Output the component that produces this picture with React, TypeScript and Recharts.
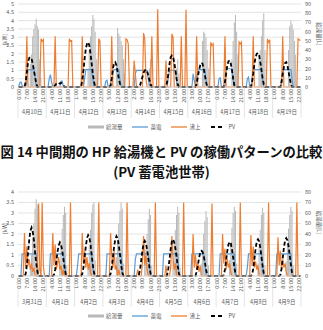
import React from 'react';
import { ComposedChart, Bar, Line, XAxis, YAxis, CartesianGrid, Legend } from 'recharts';

// 中間期（上段：4/10〜4/19、下段：3/31〜4/9）、1時間値
const dates1 = ['4月10日', '4月11日', '4月12日', '4月13日', '4月14日', '4月15日', '4月16日', '4月17日', '4月18日', '4月19日'];
const dates2 = ['3月31日', '4月1日', '4月2日', '4月3日', '4月4日', '4月5日', '4月6日', '4月7日', '4月8日', '4月9日'];

const seriesNames = ['給湯量', '蓄電', '沸上', 'PV'];

// 上段 [kW]
const pv1 = [
  [0, 0, 0, 0, 0, 0, 0.3, 0.9, 1.5, 1.75, 1.8, 1.7, 1.4, 1.0, 0.6, 0.2, 0, 0, 0, 0, 0, 0, 0, 0],
  [0, 0, 0, 0, 0, 0, 0, 0.1, 0.2, 0.25, 0.25, 0.2, 0.25, 0.2, 0.1, 0, 0, 0, 0, 0, 0, 0, 0, 0],
  [0, 0, 0, 0, 0, 0, 0.4, 1.0, 1.7, 2.3, 2.6, 2.7, 2.5, 2.0, 1.4, 0.8, 0.3, 0, 0, 0, 0, 0, 0, 0],
  [0, 0, 0, 0, 0, 0, 0.1, 0.5, 1.1, 1.45, 1.5, 1.3, 0.9, 0.5, 0.2, 0, 0, 0, 0, 0, 0, 0, 0, 0],
  [0, 0, 0, 0, 0, 0, 0, 0.1, 0.35, 0.6, 0.85, 1.0, 1.05, 0.95, 0.7, 0.4, 0.15, 0, 0, 0, 0, 0, 0, 0],
  [0, 0, 0, 0, 0, 0.05, 0.3, 0.8, 1.4, 1.8, 1.9, 1.8, 1.5, 1.0, 0.5, 0.15, 0, 0, 0, 0, 0, 0, 0, 0],
  [0, 0, 0, 0, 0, 0, 0, 0.2, 0.6, 1.0, 1.3, 1.45, 1.4, 1.1, 0.7, 0.3, 0, 0, 0, 0, 0, 0, 0, 0],
  [0, 0, 0, 0, 0, 0, 0, 0.3, 0.8, 1.3, 1.55, 1.6, 1.4, 1.0, 0.5, 0.1, 0, 0, 0, 0, 0, 0, 0, 0],
  [0, 0, 0, 0, 0, 0, 0.3, 0.8, 1.4, 1.8, 2.0, 2.05, 1.9, 1.5, 1.0, 0.5, 0.15, 0, 0, 0, 0, 0, 0, 0],
  [0, 0, 0, 0, 0, 0, 0, 0.3, 0.8, 1.2, 1.45, 1.5, 1.3, 0.9, 0.5, 0.15, 0, 0, 0, 0, 0, 0, 0, 0],
];
const charge1 = [
  [0, 0.25, 0.3, 0.1, 0, 0, 0, 0.3, 1.05, 1.05, 1.05, 1.05, 1.05, 1.05, 0.6, 0, 0, 0, 0, 0, 0, 0, 0, 0],
  [0, 0, 0.5, 0.75, 0.3, 0, 0, 0, 0, 0, 0, 0, 0.35, 0.35, 0, 0, 0, 0, 0, 0, 0, 0, 0, 0],
  [0, 0, 0, 0, 0, 0, 0, 0, 0.5, 1.05, 1.05, 1.05, 1.05, 1.05, 1.05, 0.5, 0, 0, 0, 0, 0, 0, 0, 0],
  [0, 0, 0.35, 0.4, 0, 0, 0, 0, 0.9, 1.05, 1.05, 1.05, 1.05, 1.05, 0.4, 0, 0, 0, 0, 0, 0, 0, 0, 0],
  [0, 0, 0, 0.8, 1.0, 1.0, 1.0, 1.0, 1.0, 1.0, 1.0, 1.0, 1.0, 1.0, 0.5, 0, 0, 0, 0, 0, 0, 0, 0, 0],
  [0, 0, 0, 0, 0, 0, 0, 0.6, 1.0, 1.0, 1.0, 1.0, 1.0, 1.0, 0.3, 0, 0, 0, 0, 0, 0, 0, 0, 0],
  [0, 0, 0, 0, 0.8, 0.4, 0, 0.6, 1.05, 1.05, 1.05, 1.05, 1.05, 1.05, 1.05, 0.4, 0, 0, 0, 0, 0, 0, 0, 0],
  [0, 0, 0.5, 0.55, 0, 0, 0, 0, 1.0, 1.1, 1.1, 1.1, 1.1, 1.1, 0.4, 0, 0, 0, 0, 0, 0, 0, 0, 0],
  [0, 0, 0.5, 0.6, 0, 0, 0.5, 1.05, 1.05, 1.05, 1.05, 1.05, 1.05, 1.05, 1.05, 0.4, 0, 0, 0, 0, 0, 0, 0, 0],
  [0, 0, 0, 0, 0, 0, 0, 0.5, 1.05, 1.05, 1.05, 1.05, 1.05, 1.05, 1.05, 1.05, 0.4, 0, 0, 0, 0, 0, 0, 0],
];
const heat1 = [
  [0, 0, 0, 0, 0, 0, 0, 3.05, 0, 0, 0, 0, 0, 0, 0, 0, 0, 0, 0, 2.9, 2.75, 2.85, 0, 0],
  [0, 0, 0, 0, 0, 0, 0, 3.05, 0, 0, 0, 0, 0, 0, 0, 0, 0, 0, 0, 2.9, 2.75, 2.8, 0, 0],
  [0, 0, 0, 0, 0, 0, 3.05, 0, 0, 0, 0, 0, 0, 0, 0, 0, 0, 0, 0, 0, 2.9, 2.75, 0, 0],
  [0, 0, 0, 0, 0, 0, 0, 3.05, 0, 0, 0, 0, 0, 0, 0, 0, 0, 0, 0, 2.9, 2.85, 2.6, 0, 0],
  [0, 0, 1.6, 0.8, 0, 0, 0, 0, 0, 0, 3.25, 2.9, 0.5, 0, 0, 0, 0, 3.05, 0, 0, 0, 0, 4.68, 0],
  [0, 0, 0, 0, 0, 1.6, 0, 0, 0, 0, 3.2, 3.0, 0, 0, 0, 0, 0, 0, 3.05, 0, 0, 0, 4.65, 0],
  [0, 0, 0, 0, 0, 0, 0, 3.05, 0, 0, 0, 0, 0, 0, 0, 0, 0, 0, 0, 2.7, 2.5, 2.6, 0, 0],
  [0, 0, 0, 0, 0, 0, 0, 3.05, 0, 0, 0, 0, 0, 0, 0, 0, 0, 0, 0, 2.7, 2.6, 2.7, 0, 0],
  [0, 0, 0, 0, 0, 0, 0, 3.05, 0, 0, 0, 0, 0, 0, 0, 0, 0, 0, 0, 2.9, 2.7, 2.85, 0, 0],
  [0, 0, 0, 0, 0, 0, 0, 0, 3.05, 0, 0, 0, 0, 0, 0, 0, 0, 0, 0, 0, 0, 2.9, 2.85, 2.8],
];
// 上段 [L]
const tank1 = [
  [0, 0, 0, 0, 0, 0, 0, 0, 0, 0, 25, 35, 55, 63, 68, 74, 66, 62, 30, 10, 0, 0, 0, 0],
  [0, 0, 0, 0, 0, 0, 0, 0, 0, 0, 0, 0, 0, 0, 0, 0, 0, 0, 0, 0, 0, 0, 0, 0],
  [0, 0, 0, 0, 0, 0, 0, 0, 0, 0, 0, 20, 40, 55, 66, 78, 74, 60, 30, 0, 0, 0, 0, 0],
  [0, 0, 0, 0, 0, 0, 0, 0, 0, 0, 0, 25, 64, 58, 55, 50, 45, 30, 15, 0, 0, 0, 0, 0],
  [0, 0, 0, 0, 0, 0, 0, 0, 0, 0, 0, 0, 0, 0, 0, 20, 30, 0, 0, 0, 0, 0, 0, 0],
  [0, 0, 0, 0, 0, 0, 0, 0, 0, 0, 0, 0, 0, 0, 20, 30, 15, 0, 0, 0, 0, 0, 0, 0],
  [0, 0, 0, 0, 0, 0, 0, 0, 0, 0, 0, 0, 50, 60, 58, 54, 40, 20, 0, 0, 0, 0, 0, 0],
  [0, 0, 0, 0, 0, 0, 0, 0, 0, 0, 0, 0, 0, 30, 50, 70, 78, 60, 35, 0, 0, 0, 0, 0],
  [0, 0, 0, 0, 0, 0, 0, 0, 0, 0, 0, 0, 30, 40, 55, 72, 80, 40, 0, 0, 0, 0, 0, 0],
  [0, 0, 0, 0, 0, 0, 0, 0, 0, 0, 0, 0, 0, 40, 66, 72, 68, 62, 50, 35, 0, 0, 0, 0],
];

// 下段 [kW]
const pv2 = [
  [0, 0, 0, 0, 0, 0, 0.1, 0.5, 1.1, 1.7, 2.15, 2.3, 2.1, 1.7, 1.1, 0.6, 0.2, 0, 0, 0, 0, 0, 0, 0],
  [0, 0, 0, 0, 0, 0, 0.05, 0.3, 0.7, 1.15, 1.45, 1.6, 1.5, 1.2, 0.8, 0.4, 0.1, 0, 0, 0, 0, 0, 0, 0],
  [0, 0, 0, 0, 0, 0, 0.1, 0.4, 0.9, 1.4, 1.8, 1.95, 1.85, 1.5, 1.0, 0.5, 0.15, 0, 0, 0, 0, 0, 0, 0],
  [0, 0, 0, 0, 0, 0, 0.1, 0.4, 0.9, 1.4, 1.75, 1.9, 1.8, 1.45, 1.0, 0.5, 0.15, 0, 0, 0, 0, 0, 0, 0],
  [0, 0, 0, 0, 0, 0, 0.05, 0.3, 0.75, 1.2, 1.55, 1.67, 1.55, 1.25, 0.85, 0.4, 0.1, 0, 0, 0, 0, 0, 0, 0],
  [0, 0, 0, 0, 0, 0, 0.05, 0.35, 0.8, 1.3, 1.65, 1.75, 1.6, 1.3, 0.9, 0.45, 0.1, 0, 0, 0, 0, 0, 0, 0],
  [0, 0, 0, 0, 0, 0, 0, 0.2, 0.5, 0.85, 1.1, 1.2, 1.15, 0.95, 0.65, 0.3, 0.05, 0, 0, 0, 0, 0, 0, 0],
  [0, 0, 0, 0, 0, 0, 0.05, 0.3, 0.75, 1.2, 1.5, 1.63, 1.55, 1.25, 0.85, 0.4, 0.1, 0, 0, 0, 0, 0, 0, 0],
  [0, 0, 0, 0, 0, 0, 0.05, 0.35, 0.8, 1.3, 1.65, 1.75, 1.65, 1.35, 0.9, 0.45, 0.1, 0, 0, 0, 0, 0, 0, 0],
  [0, 0, 0, 0, 0, 0, 0.05, 0.35, 0.85, 1.35, 1.7, 1.8, 1.7, 1.4, 0.95, 0.5, 0.1, 0, 0, 0, 0, 0, 0, 0],
];
const charge2 = [
  [0, 0, 0, 1.05, 1.05, 1.05, 1.05, 1.05, 1.05, 1.05, 1.05, 1.05, 1.05, 1.05, 1.05, 1.05, 0, 0, 0, 0, 0, 0, 0, 0],
  [0, 0, 0, 1.05, 1.05, 1.05, 1.05, 1.05, 1.05, 1.05, 1.05, 1.05, 1.05, 1.05, 1.05, 0.6, 0, 0, 0, 0, 0, 0, 0, 0],
  [0, 0, 0.5, 1.05, 1.05, 1.05, 1.05, 1.05, 1.05, 1.05, 1.05, 1.05, 1.05, 1.05, 1.05, 0.4, 0, 0, 0, 0, 0, 0, 0, 0],
  [0, 0, 0, 1.05, 1.05, 1.05, 1.05, 1.05, 1.05, 1.05, 1.05, 1.05, 1.05, 1.05, 1.05, 1.05, 0, 0, 0, 0, 0, 0, 0, 0],
  [0, 0, 0, 0.8, 1.05, 1.05, 1.05, 1.05, 1.05, 1.05, 1.05, 1.05, 1.05, 1.05, 1.05, 0.5, 0, 0, 0, 0, 0, 0, 0, 0],
  [0, 0, 0, 1.05, 1.05, 1.05, 1.05, 1.05, 1.05, 1.05, 1.05, 1.05, 1.05, 1.05, 1.05, 1.05, 0, 0, 0, 0, 0, 0, 0, 0],
  [0, 0, 0, 1.05, 1.05, 1.05, 1.05, 1.05, 1.05, 1.05, 1.05, 1.05, 1.05, 1.05, 0.7, 0, 0, 0, 0, 0, 0, 0, 0, 0],
  [0, 0, 0, 1.05, 1.05, 1.05, 1.05, 1.05, 1.05, 1.05, 1.05, 1.05, 1.05, 1.05, 1.05, 1.05, 0, 0, 0, 0, 0, 0, 0, 0],
  [0, 0, 0.4, 1.05, 1.05, 1.05, 1.05, 1.05, 1.05, 1.05, 1.05, 1.05, 1.05, 1.05, 1.05, 0.5, 0, 0, 0, 0, 0, 0, 0, 0],
  [0, 0, 0, 1.05, 1.05, 1.05, 1.05, 1.05, 1.05, 1.05, 1.05, 1.05, 1.05, 1.05, 1.05, 1.05, 0, 0, 0, 0, 0, 0, 0, 0],
];
const heat2 = [
  [0, 0, 0, 0, 0, 2.05, 0.4, 1.4, 0.5, 0.8, 0.3, 0.6, 0.2, 0.4, 0, 0, 0, 3.45, 0.3, 0, 3.5, 0.5, 0, 0],
  [0, 0, 0, 0, 0, 2.05, 0.5, 1.5, 0.3, 0.6, 0.9, 0.3, 0.5, 0, 0.3, 0, 0, 0, 0, 0, 3.5, 0, 0, 0],
  [0, 0, 0, 0, 0, 0, 2.05, 0.6, 1.2, 0.4, 0.9, 0.3, 0.6, 0.2, 0, 0, 0, 0, 0, 0, 3.5, 0, 0, 0],
  [0, 0, 0, 0, 0, 0, 2.05, 1.0, 0.4, 1.2, 0.3, 0.5, 0, 0.3, 0, 0, 0, 0, 0, 0, 3.5, 0, 0, 0],
  [0, 0, 0, 0, 0, 0.3, 0, 0, 0, 0.6, 1.9, 0.5, 1.0, 0.3, 0, 0, 0, 0, 0, 0, 3.5, 0, 0, 0],
  [0, 0, 0, 0, 0, 0.5, 0, 0, 0, 0.4, 1.9, 0.8, 0.3, 0.6, 0, 0, 0, 0, 0, 0, 3.5, 0, 0, 0],
  [0, 0, 0, 0, 2.0, 0.4, 1.0, 0.3, 0.6, 0.2, 0.5, 0, 0, 0, 0, 0, 0, 0, 0, 0, 3.45, 0, 0, 0],
  [0, 0, 0, 0, 0, 2.0, 0.6, 1.3, 0.3, 0.8, 0.4, 0.6, 0.2, 0, 0, 0, 0, 0, 0, 0, 3.5, 0, 0, 0],
  [0, 0, 0, 0, 0, 1.95, 0.5, 1.4, 0.4, 0.7, 0.3, 0.5, 0, 0, 0, 0, 0, 0, 0, 0, 3.5, 0, 0, 0],
  [0, 0, 0, 0, 1.85, 0.5, 1.2, 0.3, 0.8, 0.4, 0.6, 0.2, 0, 0, 0, 0, 0, 0, 0, 0, 3.5, 0, 0, 0],
];
// 下段 [L]
const tank2 = [
  [0, 0, 0, 0, 0, 0, 0, 0, 0, 0, 10, 20, 36, 50, 64, 73, 68, 8, 0, 0, 0, 0, 0, 0],
  [0, 0, 0, 0, 0, 0, 0, 0, 0, 0, 0, 15, 30, 45, 58, 66, 60, 10, 0, 0, 0, 0, 0, 0],
  [0, 0, 0, 0, 0, 0, 0, 0, 0, 0, 0, 12, 28, 44, 60, 68, 70, 15, 0, 0, 0, 0, 0, 0],
  [0, 0, 0, 0, 0, 0, 0, 0, 0, 0, 0, 18, 34, 50, 62, 70, 64, 12, 0, 0, 0, 0, 0, 0],
  [0, 0, 0, 0, 0, 0, 0, 0, 0, 0, 0, 10, 26, 40, 54, 64, 58, 10, 0, 0, 0, 0, 0, 0],
  [0, 0, 0, 0, 0, 0, 0, 0, 0, 0, 0, 14, 30, 44, 58, 66, 60, 8, 0, 0, 0, 0, 0, 0],
  [0, 0, 0, 0, 0, 0, 0, 0, 0, 0, 0, 12, 25, 40, 52, 62, 56, 10, 0, 0, 0, 0, 0, 0],
  [0, 0, 0, 0, 0, 0, 0, 0, 0, 0, 0, 15, 30, 46, 60, 66, 62, 12, 0, 0, 0, 0, 0, 0],
  [0, 0, 0, 0, 0, 0, 0, 0, 0, 0, 0, 12, 28, 44, 58, 65, 60, 10, 0, 0, 0, 0, 0, 0],
  [0, 0, 0, 0, 0, 0, 0, 0, 0, 0, 0, 14, 30, 45, 58, 66, 62, 10, 0, 0, 0, 0, 0, 0],
];

const kwTicks1 = [0, 0.5, 1, 1.5, 2, 2.5, 3, 3.5, 4, 4.5, 5];
const lTicks1 = [0, 10, 20, 30, 40, 50, 60, 70, 80, 90];
const kwTicks2 = [0, 0.5, 1, 1.5, 2, 2.5, 3, 3.5, 4];
const lTicks2 = [0, 10, 20, 30, 40, 50, 60, 70, 80];

const GRAY = '#b9b9b9';
const BLUE = '#5b9bd5';
const ORANGE = '#ed7d31';
const TXT = '#595959';
const FONT = '"Noto Sans CJK JP", "Noto Sans", sans-serif';

const W = 323;
const PLOT_W = 283;
const BW = PLOT_W / 240;

const buildRows = (pv: number[][], charge: number[][], heat: number[][], tank: number[][]) => {
  const rows: any[] = [];
  pv.forEach((day, d) =>
    day.forEach((v, h) =>
      rows.push({ i: d * 24 + h, pv: v, charge: charge[d][h], heat: heat[d][h], tank: tank[d][h] })
    )
  );
  return rows;
};

const TimeTick = ({ x, y, payload }: any) => (
  <text
    x={x}
    y={y}
    transform={`rotate(-90 ${x} ${y})`}
    textAnchor="end"
    dominantBaseline="central"
    fontSize={5.5}
    fill={TXT}
  >
    {`${payload.value % 24}:00`}
  </text>
);

const DateTick = ({ x, y, payload, dates, upH, h }: any) => {
  const d = Math.floor(payload.value / 24);
  const left = x - 12.5 * BW;
  const right = left + 24 * BW;
  return (
    <g>
      <line x1={left} x2={left} y1={y - upH} y2={y + h - 2} stroke="#d9d9d9" strokeWidth={0.7} />
      {d === dates.length - 1 && (
        <line x1={right} x2={right} y1={y - upH} y2={y + h - 2} stroke="#d9d9d9" strokeWidth={0.7} />
      )}
      <text x={x - 0.5 * BW} y={y + h / 2} textAnchor="middle" dominantBaseline="central" fontSize={5.5} fill={TXT}>
        {dates[d]}
      </text>
    </g>
  );
};

const LegendBox = () => {
  const item = (swatch: React.ReactNode, label: string) => (
    <div key={label} style={{ display: 'flex', alignItems: 'center', gap: 2 }}>
      <svg width={16} height={4}>{swatch}</svg>
      <span>{label}</span>
    </div>
  );
  return (
    <div
      style={{
        display: 'flex',
        justifyContent: 'center',
        alignItems: 'center',
        gap: 10,
        height: 14,
        fontSize: 5.5,
        color: TXT,
        fontFamily: FONT,
      }}
    >
      {item(<rect x={0} y={0.5} width={16} height={3} fill={GRAY} />, seriesNames[0])}
      {item(<line x1={0} x2={16} y1={2} y2={2} stroke={BLUE} strokeWidth={1.3} />, seriesNames[1])}
      {item(<line x1={0} x2={16} y1={2} y2={2} stroke={ORANGE} strokeWidth={1.3} />, seriesNames[2])}
      {item(<line x1={1} x2={15} y1={2} y2={2} stroke="#000" strokeWidth={1.8} strokeDasharray="4 3" />, seriesNames[3])}
    </div>
  );
};

interface PanelProps {
  dates: string[];
  rows: any[];
  kwTicks: number[];
  lTicks: number[];
  height: number;
  timeH: number;
  dateH: number;
}

const Panel = ({ dates, rows, kwTicks, lTicks, height, timeH, dateH }: PanelProps) => {
  const timeTicks = rows.filter((r) => r.i % 7 === 0).map((r) => r.i);
  const dateTicks = dates.map((_, k) => k * 24 + 12);
  return (
    <ComposedChart
      width={W}
      height={height}
      data={rows}
      margin={{ top: 4, right: 0, bottom: 0, left: 0 }}
      barCategoryGap={0}
    >
      <CartesianGrid vertical={false} stroke="#d9d9d9" strokeWidth={0.7} yAxisId="l" />
      <XAxis
        dataKey="i"
        ticks={timeTicks}
        interval={0}
        height={timeH}
        tickLine={false}
        tickSize={0}
        tickMargin={2}
        axisLine={{ stroke: '#d9d9d9' }}
        tick={(p: any) => <TimeTick {...p} />}
      />
      <XAxis
        xAxisId="d"
        dataKey="i"
        ticks={dateTicks}
        interval={0}
        height={dateH}
        axisLine={false}
        tickLine={false}
        tickSize={0}
        tickMargin={0}
        tick={(p: any) => <DateTick {...p} dates={dates} upH={timeH} h={dateH} />}
      />
      <YAxis
        yAxisId="l"
        width={18}
        domain={[kwTicks[0], kwTicks[kwTicks.length - 1]]}
        ticks={kwTicks}
        interval={0}
        axisLine={false}
        tickLine={false}
        tickSize={0}
        tickMargin={4}
        tick={{ fontSize: 5.5, fill: TXT }}
        label={{ value: '[kW]', angle: -90, position: 'insideLeft', offset: 5, fontSize: 5.5, fill: TXT }}
      />
      <YAxis
        yAxisId="r"
        orientation="right"
        width={22}
        domain={[lTicks[0], lTicks[lTicks.length - 1]]}
        ticks={lTicks}
        interval={0}
        axisLine={false}
        tickLine={false}
        tickSize={0}
        tickMargin={4}
        tick={{ fontSize: 5.5, fill: TXT, textAnchor: 'start' }}
        label={{ value: '給湯量[L]', angle: 90, position: 'insideRight', offset: 4, fontSize: 5.5, fill: TXT }}
      />
      <Bar yAxisId="r" dataKey="tank" name={seriesNames[0]} fill={GRAY} barSize={1} isAnimationActive={false} />
      <Line
        yAxisId="l"
        type="linear"
        dataKey="charge"
        name={seriesNames[1]}
        stroke={BLUE}
        strokeWidth={1.2}
        dot={false}
        isAnimationActive={false}
      />
      <Line
        yAxisId="l"
        type="linear"
        dataKey="heat"
        name={seriesNames[2]}
        stroke={ORANGE}
        strokeWidth={1.2}
        dot={false}
        isAnimationActive={false}
      />
      <Line
        yAxisId="l"
        type="linear"
        dataKey="pv"
        name={seriesNames[3]}
        stroke="#000"
        strokeWidth={1.8}
        strokeDasharray="4 2.5"
        dot={false}
        isAnimationActive={false}
      />
      <Legend verticalAlign="bottom" height={14} content={() => <LegendBox />} />
    </ComposedChart>
  );
};

const rows1 = buildRows(pv1, charge1, heat1, tank1);
const rows2 = buildRows(pv2, charge2, heat2, tank2);

export default function App() {
  return (
    <div
      style={{
        position: 'absolute',
        left: 0,
        top: 0,
        width: W,
        height: 330,
        background: '#fff',
        fontFamily: FONT,
        overflow: 'hidden',
      }}
    >
      <div style={{ position: 'absolute', left: 0, top: 0 }}>
        <Panel dates={dates1} rows={rows1} kwTicks={kwTicks1} lTicks={lTicks1} height={134} timeH={17} dateH={16} />
      </div>
      <div
        style={{
          position: 'absolute',
          left: 0,
          top: 143,
          width: W,
          textAlign: 'center',
          fontSize: 13.3,
          fontWeight: 700,
          lineHeight: '18px',
          whiteSpace: 'nowrap',
          color: '#111',
        }}
      >
        図 14 中間期の HP 給湯機と PV の稼働パターンの比較
      </div>
      <div
        style={{
          position: 'absolute',
          left: 0,
          top: 163,
          width: W,
          textAlign: 'center',
          fontSize: 13.3,
          fontWeight: 700,
          lineHeight: '18px',
          whiteSpace: 'nowrap',
          color: '#111',
        }}
      >
        (PV 蓄電池世帯)
      </div>
      <div style={{ position: 'absolute', left: 0, top: 188 }}>
        <Panel dates={dates2} rows={rows2} kwTicks={kwTicks2} lTicks={lTicks2} height={135} timeH={19} dateH={14} />
      </div>
    </div>
  );
}
